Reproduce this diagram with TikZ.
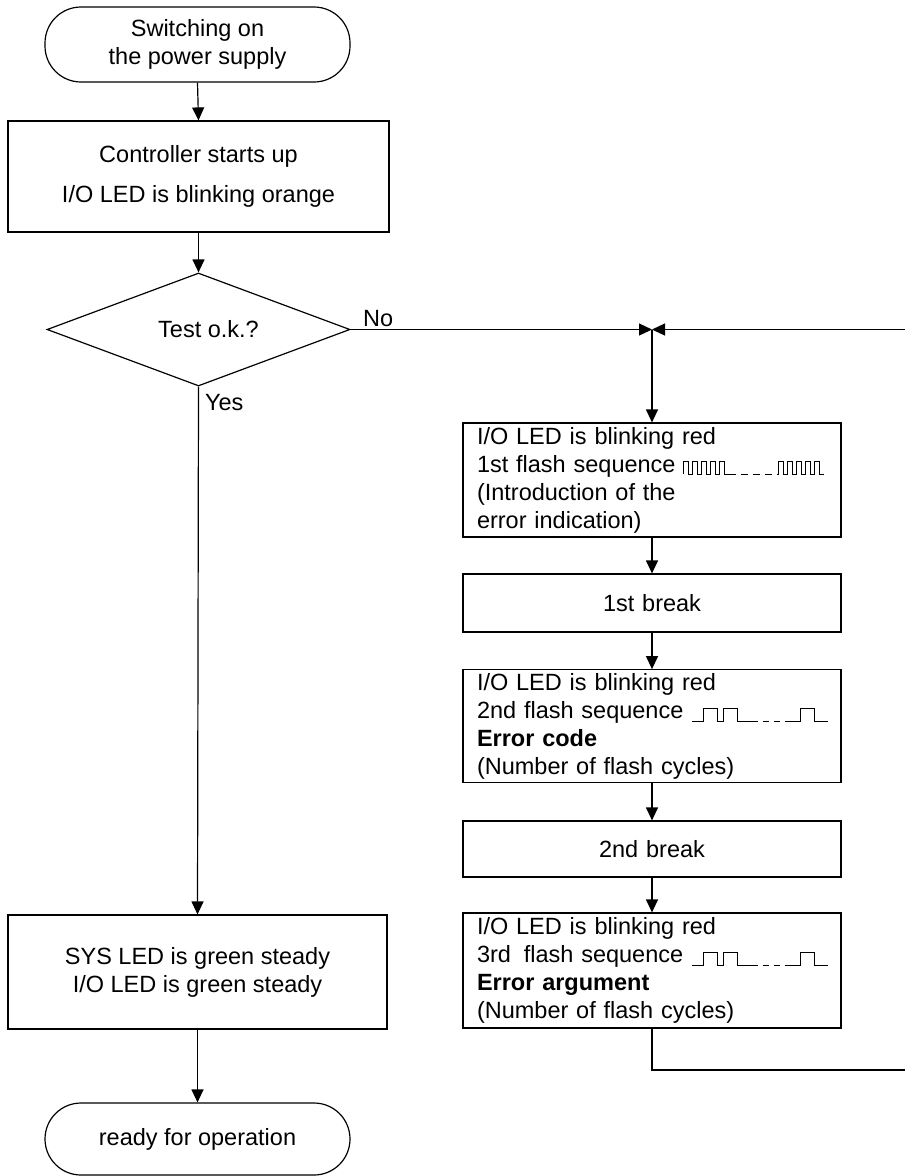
\documentclass[tikz,border=0pt]{standalone}
\usepackage{fontspec}
\setmainfont{Liberation Sans}
\usetikzlibrary{shapes, arrows.meta, positioning, calc}

% small pulse trains written inside the text lines
\newcommand{\fastwave}{\rlap{\tikz[baseline=0pt, x=1pt, y=1pt, line width=1pt, draw=black, sharp corners]{
    \draw (0,-2) foreach \k in {1,...,5} {-- ++(0,13) -- ++(4.5,0) -- ++(0,-13) -- ++(4.5,0)};
    \draw[dash pattern=on 7pt off 5pt] (45,-2) -- (95,-2);
    \draw (95,-2) foreach \k in {1,...,5} {-- ++(0,13) -- ++(4.5,0) -- ++(0,-13) -- ++(4.5,0)};}}}
\newcommand{\slowwave}{\rlap{\tikz[baseline=0pt, x=1pt, y=1pt, line width=1pt, draw=black, sharp corners]{
    \draw (0,-3) -- (12,-3) -- (12,10) -- (26,10) -- (26,-3) -- (32,-3) -- (32,10) -- (46,10) -- (46,-3) -- (60,-3);
    \draw[dash pattern=on 6pt off 5pt] (60,-3) -- (96,-3);
    \draw (96,-3) -- (109,-3) -- (109,10) -- (123,10) -- (123,-3) -- (136,-3);}}}

\begin{document}
\begin{tikzpicture}[
        x=1pt, y=-1pt,
        every node/.style={font=\fontsize{23.5}{28}\selectfont},
        term/.style={rectangle, draw=black, line width=1.2pt, rounded corners=36pt, minimum width=305pt, align=center},
        procbox/.style={rectangle, draw=black, line width=1.2pt, minimum width=381pt, align=center},
        decision/.style={diamond, draw=black, line width=1.2pt, aspect=2.68, inner sep=0pt, minimum width=303pt, minimum height=113pt},
        seqbox/.style={rectangle, draw=black, line width=1.2pt, text width=350pt, inner xsep=14pt, align=left},
        flow/.style={-{Triangle[width=12pt, length=13pt]}, line width=1.2pt},
        plain/.style={line width=1.2pt},
        tag/.style={inner sep=2pt}
    ]
        \useasboundingbox (0,0) rectangle (905,1176);

        % ----------------------------------------------------
        % LEFT COLUMN
        % ----------------------------------------------------
        \node[term, minimum height=75pt] (start) at (197.5, 44.5) {Switching on\\the power supply};
        \node[procbox, minimum height=111pt] (boot) at (198.5, 176.5) {Controller starts up\\[12pt]I/O LED is blinking orange};
        \node[decision] (test) at (198.5, 329.5) {\hspace*{20pt}Test o.k.?};
        \node[procbox, minimum height=114pt, minimum width=379pt] (ready) at (197.5, 972) {SYS LED is green steady\\I/O LED is green steady};
        \node[term, minimum height=72pt] (finish) at (197.5, 1139) {ready for operation};

        % ----------------------------------------------------
        % RIGHT COLUMN (error indication)
        % ----------------------------------------------------
        \node[seqbox, minimum height=114pt] (seqone) at (652, 480) {I/O LED is blinking red\\1st flash sequence \fastwave\\(Introduction of the\\error indication)};
        \node[seqbox, minimum height=58pt, align=center] (breakone) at (652, 603) {1st break};
        \node[seqbox, minimum height=112pt] (seqtwo) at (652, 726) {I/O LED is blinking red\\2nd flash sequence \slowwave\\\textbf{Error code}\\(Number of flash cycles)};
        \node[seqbox, minimum height=56pt, align=center] (breaktwo) at (652, 849) {2nd break};
        \node[seqbox, minimum height=115pt] (seqthree) at (652, 970.5) {I/O LED is blinking red\\3rd\hspace{5pt} flash sequence \slowwave\\\textbf{Error argument}\\(Number of flash cycles)};

        \coordinate (junc) at (test.east -| seqone.north);
        \coordinate (loopin) at (905, 329.5);
        \coordinate (loopout) at (905, 1070);

        % ----------------------------------------------------
        % CONNECTORS
        % ----------------------------------------------------
        \draw[flow] (start.south) -- (boot.north);
        \draw[flow] (boot.south) -- (test.north);
        \draw[flow] (test.south) -- (ready.north) node[pos=0, anchor=north west, tag, xshift=4pt, yshift=-5pt] {Yes};
        \draw[flow] (ready.south) -- (finish.north);

        \draw[flow] (test.east) -- (junc) node[pos=0, anchor=south west, tag, xshift=10pt] {No};
        \draw[flow] (loopin) -- (junc);
        \draw[flow] (junc) -- (seqone.north);
        \draw[flow] (seqone.south) -- (breakone.north);
        \draw[flow] (breakone.south) -- (seqtwo.north);
        \draw[flow] (seqtwo.south) -- (breaktwo.north);
        \draw[flow] (breaktwo.south) -- (seqthree.north);
        \draw[plain] (seqthree.south) |- (loopout);

\end{tikzpicture}
\end{document}
